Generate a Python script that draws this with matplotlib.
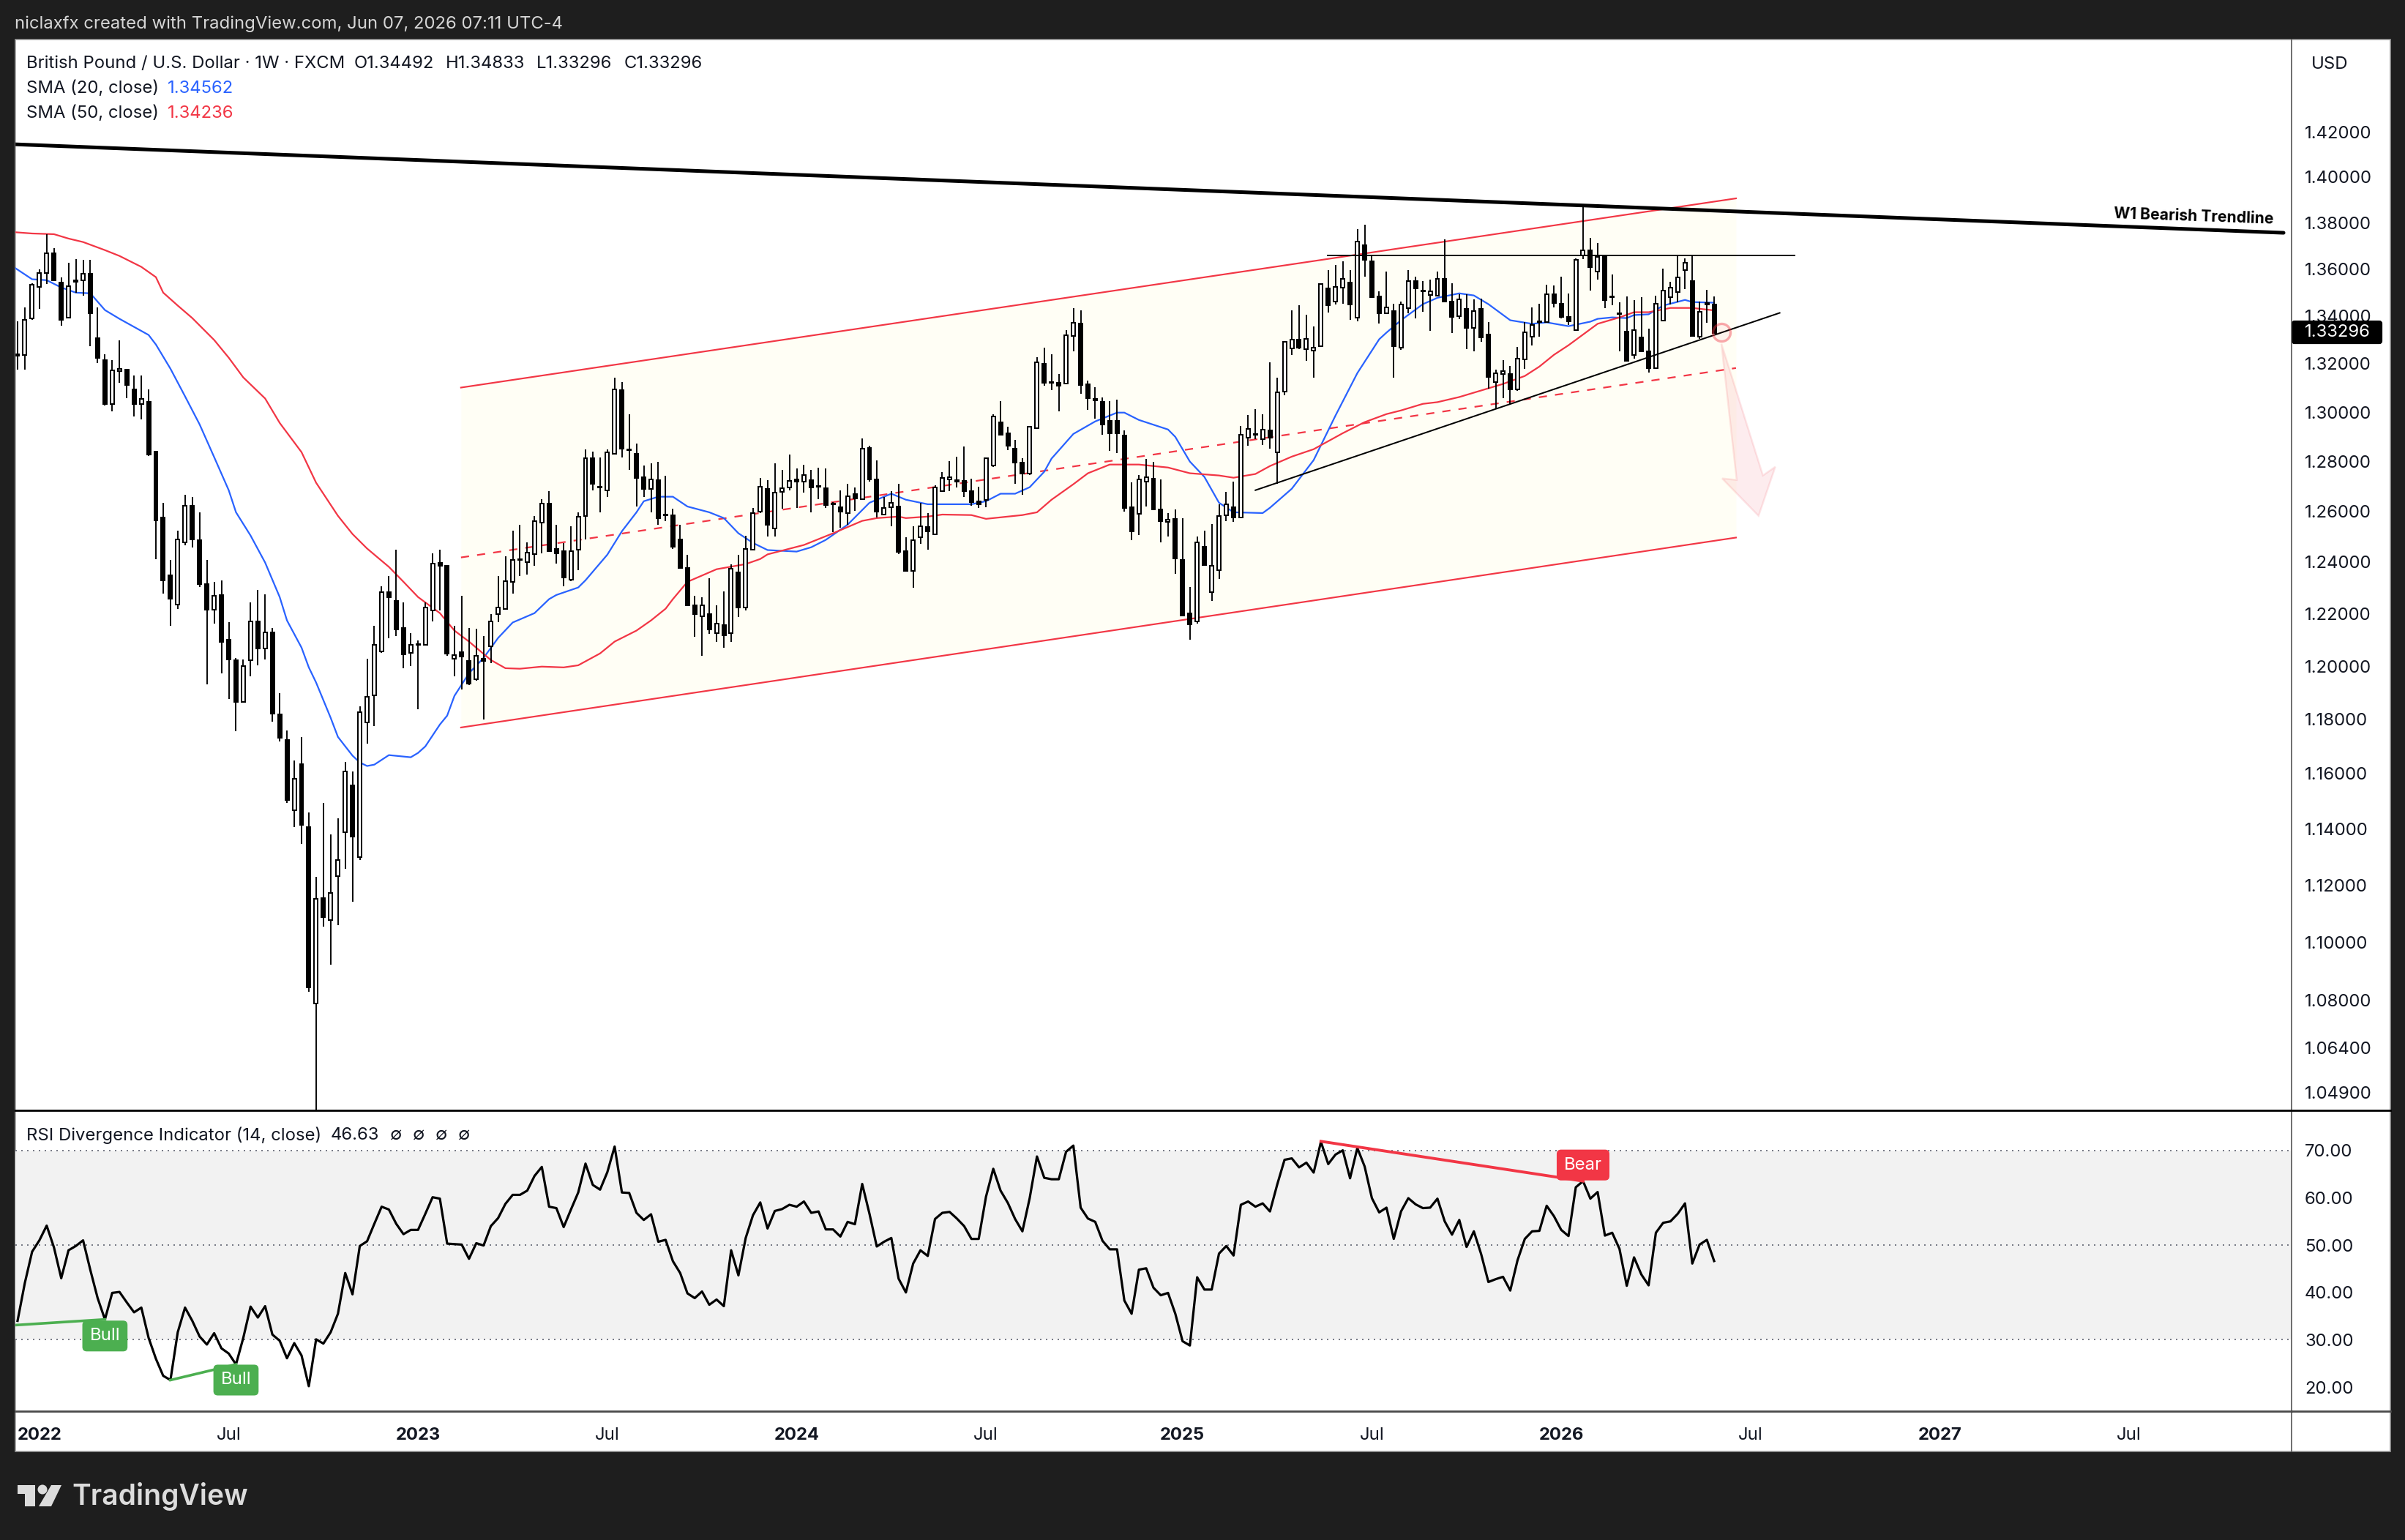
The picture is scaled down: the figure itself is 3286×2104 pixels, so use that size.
#!/usr/bin/env python3
# -*- coding: utf-8 -*-
"""GBPUSD weekly candles with SMA lines, channel drawings and an RSI pane."""

import numpy as np
import matplotlib
matplotlib.use("Agg")
import matplotlib.pyplot as plt
from matplotlib.patches import Circle, FancyBboxPatch, Polygon, Rectangle

# weekly candles, index 0 is the first visible week of 2022
opens = [
    1.3240,1.3237,1.3391,1.3524,1.3584,1.3669,1.3543,1.3394,1.3552,1.3552,
    1.3581,1.3308,1.3215,1.3034,1.3170,1.3176,1.3095,1.3034,1.3041,1.2840,
    1.2576,1.2349,1.2236,1.2478,1.2622,1.2487,1.2315,1.2216,1.2272,1.2101,
    1.2023,1.1866,1.2023,1.2169,1.2067,1.2129,1.1820,1.1725,1.1468,1.1636,
    1.1407,1.0790,1.1155,1.1078,1.1232,1.1389,1.1558,1.1300,1.1790,1.1891,
    1.2056,1.2284,1.2250,1.2146,1.2050,1.2084,1.2081,1.2213,1.2398,1.2386,
    1.2028,1.2053,1.2020,1.1949,1.2028,1.2076,1.2199,1.2219,1.2323,1.2409,
    1.2401,1.2432,1.2556,1.2631,1.2450,1.2444,1.2332,1.2447,1.2582,1.2814,
    1.2699,1.2684,1.2831,1.3089,1.2849,1.2831,1.2737,1.2690,1.2725,1.2585,
    1.2585,1.2490,1.2378,1.2233,1.2191,1.2199,1.2126,1.2155,1.2126,1.2361,
    1.2225,1.2447,1.2599,1.2690,1.2533,1.2678,1.2696,1.2728,1.2717,1.2725,
    1.2702,1.2693,1.2631,1.2617,1.2593,1.2670,1.2649,1.2855,1.2728,1.2587,
    1.2617,1.2619,1.2444,1.2366,1.2498,1.2539,1.2510,1.2681,1.2728,1.2725,
    1.2722,1.2681,1.2640,1.2646,1.2784,1.2959,1.2914,1.2852,1.2796,1.2752,
    1.2935,1.3200,1.3125,1.3122,1.3119,1.3317,1.3367,1.3116,1.3053,1.3041,
    1.2965,1.2965,1.2906,1.2617,1.2590,1.2719,1.2731,1.2608,1.2559,1.2570,
    1.2407,1.2202,1.2169,1.2461,1.2284,1.2369,1.2585,1.2617,1.2576,1.2896,
    1.2911,1.2890,1.2926,1.2837,1.3083,1.3265,1.3302,1.3262,1.3256,1.3274,
    1.3518,1.3462,1.3521,1.3543,1.3394,1.3703,1.3634,1.3484,1.3410,1.3422,
    1.3268,1.3434,1.3549,1.3508,1.3490,1.3487,1.3559,1.3462,1.3400,1.3431,
    1.3351,1.3431,1.3323,1.3125,1.3158,1.3158,1.3095,1.3219,1.3314,1.3376,
    1.3373,1.3493,1.3453,1.3397,1.3342,1.3659,1.3681,1.3590,1.3653,1.3484,
    1.3410,1.3333,1.3237,1.3311,1.3253,1.3182,1.3382,1.3481,1.3502,1.3596,
    1.3549,1.3314,1.3456,1.34492,
]
highs = [
    1.3376,1.3437,1.3540,1.3599,1.3750,1.3691,1.3565,1.3628,1.3643,1.3640,
    1.3640,1.3437,1.3240,1.3215,1.3296,1.3179,1.3152,1.3152,1.3092,1.2840,
    1.2634,1.2407,1.2524,1.2667,1.2658,1.2596,1.2407,1.2323,1.2329,1.2166,
    1.2031,1.2025,1.2244,1.2292,1.2275,1.2146,1.1899,1.1759,1.1647,1.1735,
    1.1460,1.1229,1.1494,1.1381,1.1439,1.1644,1.1609,1.1850,1.2028,1.2152,
    1.2306,1.2346,1.2447,1.2242,1.2126,1.2098,1.2244,1.2435,1.2447,1.2389,
    1.2152,1.2270,1.2146,1.2143,1.2115,1.2199,1.2346,1.2424,1.2524,1.2547,
    1.2478,1.2582,1.2649,1.2681,1.2547,1.2475,1.2541,1.2596,1.2849,1.2840,
    1.2817,1.2849,1.3143,1.3125,1.2992,1.2872,1.2784,1.2793,1.2799,1.2743,
    1.2611,1.2547,1.2427,1.2270,1.2264,1.2337,1.2233,1.2287,1.2392,1.2429,
    1.2504,1.2614,1.2734,1.2725,1.2793,1.2764,1.2828,1.2772,1.2787,1.2764,
    1.2775,1.2772,1.2637,1.2684,1.2711,1.2696,1.2893,1.2864,1.2805,1.2658,
    1.2681,1.2711,1.2496,1.2541,1.2634,1.2593,1.2705,1.2758,1.2802,1.2819,
    1.2861,1.2731,1.2699,1.2817,1.2992,1.3046,1.2941,1.2887,1.2814,1.2944,
    1.3228,1.3268,1.3240,1.3158,1.3342,1.3434,1.3425,1.3131,1.3104,1.3059,
    1.3044,1.3050,1.2926,1.2714,1.2746,1.2811,1.2799,1.2728,1.2593,1.2608,
    1.2573,1.2303,1.2501,1.2524,1.2550,1.2628,1.2678,1.2717,1.2944,1.2989,
    1.3013,1.2992,1.3206,1.3143,1.3293,1.3425,1.3444,1.3404,1.3357,1.3540,
    1.3596,1.3618,1.3634,1.3596,1.3772,1.3791,1.3659,1.3505,1.3590,1.3453,
    1.3462,1.3596,1.3568,1.3549,1.3555,1.3590,1.3728,1.3540,1.3493,1.3493,
    1.3471,1.3474,1.3373,1.3176,1.3215,1.3191,1.3271,1.3373,1.3437,1.3453,
    1.3534,1.3530,1.3568,1.3496,1.3647,1.3867,1.3735,1.3713,1.3662,1.3577,
    1.3459,1.3484,1.3468,1.3481,1.3348,1.3487,1.3603,1.3546,1.3659,1.3647,
    1.3659,1.3462,1.3512,1.34833,
]
lows = [
    1.3176,1.3176,1.3385,1.3431,1.3537,1.3549,1.3360,1.3391,1.3499,1.3487,
    1.3274,1.3203,1.3028,1.3004,1.3122,1.3056,1.2983,1.2971,1.2822,1.2412,
    1.2278,1.2154,1.2219,1.2467,1.2458,1.2303,1.1932,1.2163,1.1973,1.1875,
    1.1757,1.1864,1.1960,1.2003,1.2025,1.1792,1.1719,1.1494,1.1405,1.1347,
    1.0830,1.0350,1.1055,1.0923,1.1060,1.1258,1.1142,1.1289,1.1711,1.1776,
    1.2050,1.2107,1.2115,1.1992,1.2001,1.1839,1.2079,1.2169,1.2213,1.2039,
    1.1960,1.1913,1.1927,1.1946,1.1801,1.2012,1.2166,1.2219,1.2278,1.2346,
    1.2352,1.2386,1.2435,1.2444,1.2395,1.2306,1.2326,1.2369,1.2490,1.2684,
    1.2596,1.2658,1.2828,1.2817,1.2764,1.2619,1.2658,1.2596,1.2547,1.2562,
    1.2450,1.2378,1.2233,1.2112,1.2039,1.2123,1.2093,1.2070,1.2093,1.2188,
    1.2211,1.2447,1.2593,1.2501,1.2501,1.2611,1.2684,1.2614,1.2675,1.2596,
    1.2649,1.2614,1.2518,1.2536,1.2547,1.2602,1.2646,1.2719,1.2576,1.2585,
    1.2541,1.2430,1.2366,1.2301,1.2470,1.2447,1.2510,1.2678,1.2681,1.2696,
    1.2658,1.2622,1.2614,1.2617,1.2778,1.2905,1.2846,1.2711,1.2667,1.2746,
    1.2935,1.3110,1.3089,1.3004,1.3119,1.3253,1.3074,1.3010,1.2974,1.2908,
    1.2843,1.2834,1.2599,1.2487,1.2507,1.2619,1.2608,1.2478,1.2501,1.2355,
    1.2194,1.2101,1.2163,1.2389,1.2250,1.2335,1.2562,1.2559,1.2576,1.2864,
    1.2890,1.2866,1.2852,1.2711,1.3068,1.3237,1.3262,1.3212,1.3143,1.3271,
    1.3416,1.3450,1.3453,1.3385,1.3376,1.3568,1.3481,1.3367,1.3407,1.3143,
    1.3259,1.3413,1.3391,1.3419,1.3336,1.3484,1.3462,1.3327,1.3388,1.3262,
    1.3250,1.3290,1.3098,1.3013,1.3056,1.3034,1.3086,1.3179,1.3277,1.3314,
    1.3373,1.3437,1.3391,1.3363,1.3339,1.3643,1.3508,1.3555,1.3434,1.3444,
    1.3253,1.3213,1.3222,1.3250,1.3164,1.3179,1.3379,1.3450,1.3459,1.3515,
    1.3317,1.3305,1.3370,1.33296,
]
closes = [
    1.3234,1.3385,1.3534,1.3584,1.3669,1.3552,1.3385,1.3527,1.3546,1.3581,
    1.3410,1.3225,1.3034,1.3173,1.3179,1.3113,1.3034,1.3053,1.2828,1.2564,
    1.2329,1.2258,1.2490,1.2622,1.2490,1.2315,1.2216,1.2270,1.2093,1.2025,
    1.1866,1.2001,1.2169,1.2067,1.2129,1.1822,1.1733,1.1505,1.1582,1.1413,
    1.0845,1.1152,1.1088,1.1173,1.1289,1.1609,1.1371,1.1828,1.1883,1.2081,
    1.2284,1.2264,1.2140,1.2045,1.2081,1.2081,1.2225,1.2395,1.2386,1.2048,
    1.2042,1.2036,1.1935,1.2039,1.2020,1.2169,1.2225,1.2326,1.2409,1.2412,
    1.2438,1.2562,1.2631,1.2444,1.2435,1.2340,1.2444,1.2579,1.2814,1.2711,
    1.2696,1.2837,1.3092,1.2852,1.2846,1.2734,1.2690,1.2728,1.2573,1.2587,
    1.2461,1.2378,1.2233,1.2199,1.2233,1.2140,1.2163,1.2118,1.2375,1.2225,
    1.2450,1.2593,1.2699,1.2547,1.2675,1.2693,1.2722,1.2717,1.2746,1.2696,
    1.2699,1.2625,1.2628,1.2599,1.2661,1.2652,1.2852,1.2728,1.2599,1.2614,
    1.2634,1.2441,1.2366,1.2487,1.2541,1.2521,1.2696,1.2734,1.2737,1.2717,
    1.2681,1.2637,1.2628,1.2814,1.2983,1.2908,1.2864,1.2796,1.2752,1.2941,
    1.3206,1.3122,1.3122,1.3110,1.3320,1.3370,1.3113,1.3056,1.3047,1.2950,
    1.2914,1.2914,1.2614,1.2521,1.2728,1.2737,1.2608,1.2562,1.2567,1.2415,
    1.2194,1.2160,1.2478,1.2389,1.2386,1.2582,1.2628,1.2576,1.2908,1.2932,
    1.2908,1.2929,1.2896,1.3080,1.3290,1.3302,1.3268,1.3305,1.3268,1.3537,
    1.3447,1.3524,1.3559,1.3450,1.3719,1.3640,1.3481,1.3410,1.3437,1.3274,
    1.3450,1.3549,1.3518,1.3505,1.3505,1.3559,1.3462,1.3397,1.3471,1.3351,
    1.3422,1.3311,1.3146,1.3161,1.3170,1.3095,1.3222,1.3330,1.3363,1.3373,
    1.3493,1.3456,1.3397,1.3376,1.3640,1.3681,1.3609,1.3653,1.3468,1.3481,
    1.3407,1.3213,1.3339,1.3250,1.3182,1.3453,1.3508,1.3521,1.3565,1.3628,
    1.3317,1.3419,1.3450,1.33296,
]

sma20_weeks = [
    -1,2,4,6,8,10,12,14,18,19,21,23,25,27,29,30,32,34,36,37,39,40,41,43,44,46,47,48,49,51,
    54,55,56,58,59,60,62,64,66,68,71,73,74,77,78,81,83,85,86,88,90,92,95,97,99,101,103,107,109,111,
    114,117,120,122,125,131,133,135,137,139,141,142,145,148,151,152,154,158,159,161,163,165,167,171,172,175,178,181,184,187,
    188,190,193,195,198,200,202,205,208,210,213,216,217,219,221,222,224,226,229,230,233,
]
sma20_values = [
    1.3618,1.3556,1.3552,1.3521,1.3499,1.3496,1.3425,1.3388,1.3320,1.3280,1.3179,1.3065,1.2950,1.2817,1.2684,1.2596,1.2504,1.2398,1.2264,1.2174,1.2070,1.1995,1.1938,1.1806,1.1735,1.1666,1.1641,1.1628,1.1633,1.1668,
    1.1660,1.1676,1.1700,1.1781,1.1814,1.1888,1.1973,1.2031,1.2107,1.2166,1.2202,1.2256,1.2272,1.2301,1.2329,1.2429,1.2521,1.2596,1.2640,1.2658,1.2658,1.2619,1.2596,1.2573,1.2513,1.2475,1.2447,1.2441,1.2458,1.2487,
    1.2547,1.2634,1.2670,1.2646,1.2628,1.2628,1.2640,1.2670,1.2670,1.2696,1.2758,1.2811,1.2911,1.2962,1.2998,1.2998,1.2968,1.2929,1.2899,1.2799,1.2737,1.2634,1.2596,1.2593,1.2614,1.2690,1.2805,1.2986,1.3161,1.3302,
    1.3330,1.3382,1.3450,1.3477,1.3496,1.3487,1.3450,1.3382,1.3367,1.3373,1.3357,1.3376,1.3388,1.3394,1.3391,1.3404,1.3407,1.3444,1.3468,1.3459,1.34562,
]
sma50_weeks = [
    -1,2,5,7,9,12,14,17,19,20,22,24,27,29,31,34,36,39,41,44,46,48,51,53,55,58,60,62,65,67,
    69,72,75,77,80,82,85,87,89,90,92,96,100,102,103,108,112,116,118,121,122,125,127,131,133,138,140,142,145,147,
    150,154,158,161,165,167,170,172,175,178,182,185,188,190,193,195,198,202,204,207,209,211,213,217,220,222,224,227,230,233,
]
sma50_values = [
    1.3760,1.3753,1.3750,1.3731,1.3716,1.3681,1.3656,1.3609,1.3565,1.3499,1.3444,1.3391,1.3299,1.3225,1.3143,1.3056,1.2956,1.2837,1.2714,1.2582,1.2510,1.2453,1.2381,1.2323,1.2264,1.2202,1.2135,1.2093,1.2023,1.1992,
    1.1990,1.1998,1.1995,1.2003,1.2048,1.2093,1.2135,1.2174,1.2219,1.2256,1.2323,1.2372,1.2392,1.2412,1.2430,1.2467,1.2513,1.2562,1.2573,1.2579,1.2573,1.2579,1.2587,1.2585,1.2570,1.2585,1.2596,1.2646,1.2708,1.2752,
    1.2787,1.2787,1.2775,1.2752,1.2743,1.2734,1.2749,1.2781,1.2819,1.2849,1.2914,1.2959,1.2992,1.3007,1.3034,1.3041,1.3062,1.3098,1.3116,1.3149,1.3188,1.3237,1.3277,1.3367,1.3394,1.3416,1.3416,1.3434,1.3434,1.34236,
]
rsi_values = [
    34.0,42.0,48.6,51.0,54.1,49.5,43.0,48.9,49.8,51.0,
    44.7,38.8,34.3,39.9,40.1,37.9,35.8,36.8,30.4,26.0,
    22.4,21.5,31.6,36.8,34.0,30.7,29.0,31.4,28.2,27.1,
    24.8,30.4,37.0,34.7,37.1,31.1,29.8,26.1,29.3,26.7,
    20.2,30.1,29.2,31.6,35.5,44.1,39.6,49.8,50.8,54.5,
    58.1,57.5,54.5,52.3,53.2,53.2,56.6,60.1,59.8,50.3,
    50.2,50.1,47.1,50.4,49.9,54.0,55.7,58.7,60.6,60.6,
    61.5,64.6,66.5,58.1,57.8,53.8,57.5,61.1,67.2,62.7,
    61.7,65.4,70.8,61.1,61.0,56.8,55.3,56.5,50.7,51.1,
    46.6,44.1,39.8,38.8,40.2,37.4,38.5,37.1,48.9,43.6,
    51.5,56.3,59.0,53.5,57.2,57.6,58.5,58.1,59.2,56.8,
    57.1,53.3,53.3,51.8,54.9,54.4,62.9,56.6,49.7,50.7,
    51.5,42.9,40.0,46.1,48.9,47.7,55.5,56.8,57.0,55.6,
    54.0,51.3,51.3,60.2,66.1,61.5,58.9,55.5,52.9,59.9,
    68.7,64.2,63.9,63.9,69.7,71.0,57.9,55.6,54.9,50.9,
    49.1,49.1,38.3,35.5,44.8,45.1,41.0,39.4,39.9,35.5,
    29.7,28.8,43.2,40.6,40.6,48.2,49.8,47.8,58.5,59.2,
    58.1,58.8,57.1,62.8,68.0,68.3,66.4,67.4,65.3,71.8,
    67.1,69.1,70.0,64.1,70.5,66.6,59.9,56.9,57.9,51.3,
    57.1,59.9,58.6,57.8,57.9,59.8,55.0,52.2,55.3,49.6,
    52.9,48.1,42.2,42.8,43.3,40.4,46.8,51.3,52.9,53.0,
    58.3,56.1,53.2,51.9,62.2,63.5,59.8,61.2,52.0,52.6,
    49.2,41.4,47.4,43.8,41.5,52.6,54.7,55.0,56.6,58.8,
    46.1,50.1,51.1,46.63,
]

price_ticks = [1.42,1.40,1.38,1.36,1.34,1.32,1.30,1.28,1.26,1.24,1.22,1.20,1.18,1.16,1.14,1.12,1.10,1.08,1.064,1.049]
rsi_ticks = [70,60,50,40,30,20]
time_tick_weeks = [3,29,55,81,107,133,160,186,212,238,264,290]
time_tick_labels = ["2022","Jul","2023","Jul","2024","Jul","2025","Jul","2026","Jul","2027","Jul"]

# drawings: [week start, week end], [price start, price end]
channel_weeks = [60.9, 236.0]
channel_top = [1.3101, 1.3906]
channel_mid = [1.2418, 1.3182]
channel_bottom = [1.1770, 1.2496]
bear_trend_weeks = [-0.3, 311.2]
bear_trend_prices = [1.4145, 1.3756]
support_weeks = [170.0, 242.0]
support_prices = [1.2684, 1.3413]
ceiling_weeks = [179.9, 244.1]
ceiling_price = [1.3657, 1.3657]
arrow_weeks = [234.0, 239.7, 241.4, 239.1, 234.1, 236.1]
arrow_prices = [1.3283, 1.2743, 1.2778, 1.2582, 1.2731, 1.2725]

bull_lines = [([-0.3, 12], [33.1, 34.3]), ([21, 30], [21.5, 24.8])]
bear_line = ([179, 215], [71.9, 63.5])

W, H = 3286, 2104
LEFT, RIGHT, OUTER = 21, 3131, 3266
TOP, DIV, BOT, END = 54, 1517, 1928, 1983
DARK = "#1e1e1e"
RED = "#f23645"
BLUE = "#2962ff"
GREEN = "#4caf50"
FONT = ["Inter", "DejaVu Sans"]
FS = 8.6


def pane(y_top, y_bot):
    return [LEFT / W, 1 - y_bot / H, (RIGHT - LEFT) / W, (y_bot - y_top) / H]


def draw_candles(ax):
    weeks = np.arange(len(closes))
    o, h, l, c = map(np.array, (opens, highs, lows, closes))
    ax.vlines(weeks, l, h, color="black", linewidth=0.68, zorder=4)
    up = c >= o
    body_low = np.minimum(o, c)
    body_high = np.maximum(o, c)
    ax.bar(weeks[up], (body_high - body_low)[up], bottom=body_low[up], width=0.5,
           facecolor="white", edgecolor="black", linewidth=0.72, zorder=4.2)
    ax.bar(weeks[~up], (body_high - body_low)[~up], bottom=body_low[~up], width=0.5,
           facecolor="black", edgecolor="black", linewidth=0.72, zorder=4.2)


def draw_price_pane(ax):
    ax.fill_between(channel_weeks, channel_bottom, channel_top, color="#fffef5", linewidth=0, zorder=1)
    ax.plot(channel_weeks, channel_top, color=RED, linewidth=0.78, zorder=2)
    ax.plot(channel_weeks, channel_bottom, color=RED, linewidth=0.78, zorder=2)
    ax.plot(channel_weeks, channel_mid, color=RED, linewidth=0.8, linestyle=(0, (5, 5)), zorder=2)

    ax.plot(sma20_weeks, sma20_values, color=BLUE, linewidth=0.8, zorder=3)
    ax.plot(sma50_weeks, sma50_values, color=RED, linewidth=0.8, zorder=3)
    draw_candles(ax)

    ax.plot(bear_trend_weeks, bear_trend_prices, color="black", linewidth=1.8, zorder=5, solid_capstyle="round")
    ax.plot(support_weeks, support_prices, color="black", linewidth=0.72, zorder=5)
    ax.plot(ceiling_weeks, ceiling_price, color="black", linewidth=0.72, zorder=5)

    ax.add_patch(Polygon(np.column_stack([arrow_weeks, arrow_prices]), closed=True,
                         facecolor=(0.949, 0.212, 0.271, 0.09), edgecolor=(0.949, 0.212, 0.271, 0.12),
                         linewidth=0.9, zorder=3))
    ax.scatter([234], [1.3330], s=75, facecolor=(0.949, 0.212, 0.271, 0.05),
               edgecolor=(0.949, 0.212, 0.271, 0.42), linewidth=1.2, zorder=5)

    ax.text(298.9, 1.3826, "W1 Bearish Trendline", rotation=-2.0, rotation_mode="anchor", ha="center", va="center",
            fontsize=7.6, fontweight="bold", family=FONT, zorder=6)

    ax.set_yscale("log")
    ax.set_ylim(1.0432, 1.4620)
    ax.set_yticks(price_ticks)
    ax.set_yticklabels([f"{p:.5f}" for p in price_ticks])
    ax.minorticks_off()


def draw_rsi_pane(ax):
    ax.axhspan(30, 70, facecolor="#f2f2f2", linewidth=0, zorder=1)
    for level in (70, 50, 30):
        ax.axhline(level, color="#787b86", linewidth=0.72, linestyle=(0, (1, 3)), zorder=2)
    ax.plot(np.arange(len(rsi_values)), rsi_values, color="black", linewidth=1.15, zorder=3)

    for xs, ys in bull_lines:
        ax.plot(xs, ys, color=GREEN, linewidth=1.3, zorder=4)
    ax.plot(bear_line[0], bear_line[1], color=RED, linewidth=1.4, zorder=4)

    for week, value, text, col in [(12, 30.8, "Bull", GREEN), (30, 21.5, "Bull", GREEN), (215, 66.9, "Bear", RED)]:
        ax.text(week, value, text, color="white", ha="center", va="center", fontsize=FS, family=FONT, zorder=6,
                bbox=dict(boxstyle="round,pad=0.42,rounding_size=0.25", facecolor=col, edgecolor=col, linewidth=0))

    ax.set_ylim(14.93, 78.44)
    ax.set_yticks(rsi_ticks)
    ax.set_yticklabels([f"{v:.2f}" for v in rsi_ticks])


def style_axes(ax):
    ax.set_xlim(-0.3, 312.3)
    ax.set_facecolor("none")
    for spine in ax.spines.values():
        spine.set_visible(False)
    ax.yaxis.tick_right()
    ax.tick_params(axis="both", length=0)
    ax.tick_params(axis="y", pad=6.5, labelsize=FS, labelcolor="#131722")
    for label in ax.get_yticklabels():
        label.set_family(FONT)


def draw_frame(fig):
    back = fig.add_axes([0, 0, 1, 1], zorder=-1)
    back.set_xlim(0, W)
    back.set_ylim(H, 0)
    back.axis("off")
    back.add_patch(Rectangle((LEFT, TOP), OUTER - LEFT, END - TOP, facecolor="white", edgecolor="#9a9a9a", linewidth=0.6))

    # logo at bottom left
    back.add_patch(Polygon([(24, 2029), (48, 2029), (48, 2058), (34, 2058), (34, 2041), (24, 2041)], facecolor="#dcdcdc", linewidth=0))
    back.add_patch(Circle((58, 2035), 6.5, facecolor="#dcdcdc", linewidth=0))
    back.add_patch(Polygon([(70, 2029), (84, 2029), (70, 2058), (53, 2058)], facecolor="#dcdcdc", linewidth=0))
    back.text(98, 2045, "TradingView", color="#dcdcdc", fontsize=14.0, fontweight="semibold", family=FONT, va="center", ha="left")

    front = fig.add_axes([0, 0, 1, 1], zorder=10)
    front.set_xlim(0, W)
    front.set_ylim(H, 0)
    front.axis("off")
    front.plot([RIGHT, RIGHT], [TOP, END], color="#555555", linewidth=0.6)
    front.plot([LEFT, OUTER], [DIV, DIV], color="black", linewidth=1.0)
    front.plot([LEFT, RIGHT], [BOT, BOT], color="#4a4a4a", linewidth=1.0)
    front.plot([RIGHT, OUTER], [BOT, BOT], color="#4a4a4a", linewidth=1.0)
    front.add_patch(FancyBboxPatch((RIGHT + 1, 439), 122, 30, boxstyle="round,pad=0,rounding_size=3",
                                   facecolor="black", edgecolor="black", linewidth=0.8))
    front.text(3149, 454.5, f"{closes[-1]:.5f}", color="white", fontsize=FS, family=FONT, ha="left", va="center")
    front.text(3158, 88, "USD", color="#131722", fontsize=FS, family=FONT, ha="left", va="center")

    front.text(20, 33, "niclaxfx created with TradingView.com, Jun 07, 2026 07:11 UTC-4",
               color="#d6d6d6", fontsize=FS, family=FONT, ha="left", va="center")
    txt = dict(fontsize=FS, family=FONT, ha="left", va="center", color="#131722")
    front.text(36, 87, "British Pound / U.S. Dollar · 1W · FXCM", **txt)
    for x, s in [(484, "O1.34492"), (609, "H1.34833"), (733, "L1.33296"), (853, "C1.33296")]:
        front.text(x, 87, s, **txt)
    front.text(36, 121, "SMA (20, close)", **txt)
    front.text(36, 155, "SMA (50, close)", **txt)
    front.text(229, 121, "1.34562", **{**txt, "color": BLUE})
    front.text(229, 155, "1.34236", **{**txt, "color": RED})
    front.text(36, 1551, "RSI Divergence Indicator (14, close)", **txt)
    front.text(452, 1551, "46.63", **txt)
    for x in (533, 564, 595, 626):
        front.text(x, 1551, "∅", **txt)


def main():
    fig = plt.figure(figsize=(W / 200, H / 200), dpi=200, facecolor=DARK)
    draw_frame(fig)

    ax_price = fig.add_axes(pane(TOP, DIV))
    ax_rsi = fig.add_axes(pane(DIV, BOT))

    draw_price_pane(ax_price)
    draw_rsi_pane(ax_rsi)
    style_axes(ax_price)
    style_axes(ax_rsi)

    ax_price.set_xticks([])
    ax_rsi.set_xticks(time_tick_weeks)
    ax_rsi.set_xticklabels(time_tick_labels)
    ax_rsi.tick_params(axis="x", pad=8.0, labelsize=FS, labelcolor="#131722")
    for label in ax_rsi.get_xticklabels():
        label.set_family(FONT)
        if label.get_text().isdigit():
            label.set_fontweight("bold")

    fig.savefig("out.png", dpi=200, facecolor=DARK)
    plt.close(fig)


if __name__ == "__main__":
    main()
